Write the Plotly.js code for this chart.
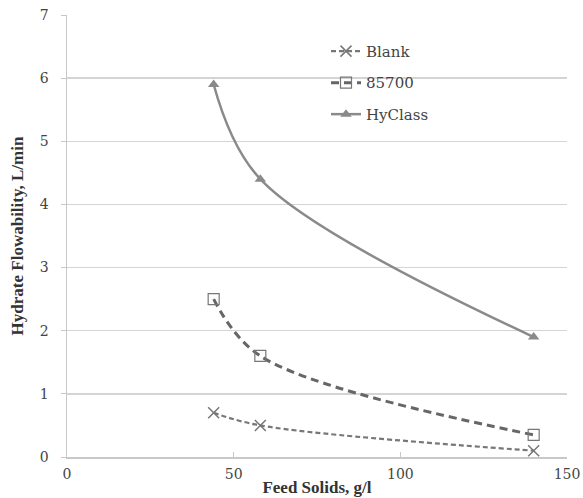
<!DOCTYPE html>
<html>
<head>
<meta charset="utf-8">
<script src="https://cdn.plot.ly/plotly-3.0.1.min.js"></script>
<style>html,body{margin:0;padding:0;background:#fff;}#chart{width:583px;height:498px;}</style>
</head>
<body>
<div id="chart"></div>
<script>
const feedSolids = [44, 58, 140];
const blank = [0.7, 0.5, 0.1];
const s85700 = [2.5, 1.6, 0.35];
const hyClass = [5.9, 4.4, 1.9];
const seriesNames = ["Blank", "85700", "HyClass"];
const xTicks = [0, 50, 100, 150];
const yTicks = [0, 1, 2, 3, 4, 5, 6, 7];

const titleFont = "Liberation Serif";
const textFont = "DejaVu Serif";

const traces = [
  {
    x: feedSolids, y: blank, name: seriesNames[0], legendgroup: "a",
    mode: "lines+markers", line: {color: "#777", width: 2.2, dash: "5px,3px", shape: "spline"},
    marker: {symbol: "x-thin-open", size: 11, color: "#777", line: {color: "#777", width: 1.5}}
  },
  {
    x: feedSolids, y: s85700, name: seriesNames[1], legendgroup: "b",
    mode: "lines+markers", line: {color: "#666", width: 3, dash: "8px,5px", shape: "spline"},
    marker: {symbol: "square-open", size: 11, color: "#777", line: {color: "#777", width: 1.2}}
  },
  {
    x: feedSolids, y: hyClass, name: seriesNames[2], legendgroup: "c",
    mode: "lines+markers", line: {color: "#8a8a8a", width: 2.5, shape: "spline"},
    marker: {symbol: "triangle-up", size: 10, color: "#8a8a8a"}
  }
];

const layout = {
  width: 583, height: 498,
  margin: {l: 67, r: 16, t: 15, b: 41},
  paper_bgcolor: "#fff", plot_bgcolor: "#fff",
  font: {family: textFont, size: 14, color: "#444"},
  showlegend: true,
  legend: {x: 0.518, y: 0.955, xanchor: "left", yanchor: "top", bgcolor: "rgba(0,0,0,0)",
           font: {family: textFont, size: 15, color: "#444"}, traceorder: "grouped", tracegroupgap: 9},
  xaxis: {
    range: [0, 150], tickvals: xTicks, ticktext: xTicks.map(String),
    tickfont: {family: textFont, size: 14, color: "#444"},
    showgrid: false, zeroline: false, showline: true, linecolor: "#c8c8c8", linewidth: 1.5,
    ticks: "inside", ticklen: 5, tickcolor: "#c8c8c8",
    ticklabelstandoff: 4,
    title: {text: "Feed Solids, g/l", font: {family: titleFont, size: 17, color: "#333", weight: "bold"}, standoff: 0}
  },
  yaxis: {
    range: [0, 7], tickvals: yTicks, ticktext: yTicks.map(String),
    tickfont: {family: textFont, size: 14, color: "#444"},
    showgrid: true, gridcolor: "#d4d4d4", gridwidth: 1.5, zeroline: false,
    showline: true, linecolor: "#c8c8c8", linewidth: 1.5,
    ticks: "outside", ticklen: 5, tickcolor: "#c8c8c8",
    ticklabelstandoff: 9,
    title: {text: "Hydrate Flowability, L/min", font: {family: titleFont, size: 17, color: "#333", weight: "bold"}, standoff: 12}
  }
};

Plotly.newPlot("chart", traces, layout, {displayModeBar: false, staticPlot: true});
</script>
</body>
</html>
